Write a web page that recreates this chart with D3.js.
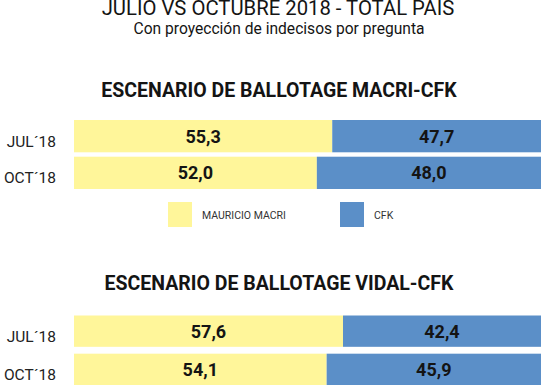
<!DOCTYPE html>
<html><head><meta charset="utf-8">
<script src="https://cdn.jsdelivr.net/npm/d3@7/dist/d3.min.js"></script>
<style>
html,body{margin:0;padding:0;background:#fff;}
svg{display:block;font-family:Roboto,"Noto Sans",sans-serif;}
</style></head>
<body><svg id="c" width="560" height="390"></svg>
<script>
const categories = ["JUL\u00B418", "OCT\u00B418"];
const macriValues = [55.3, 52.0];
const cfkVsMacriValues = [47.7, 48.0];
const vidalValues = [57.6, 54.1];
const cfkVsVidalValues = [42.4, 45.9];
const legendLabels = ["MAURICIO MACRI", "CFK"];
const titleText = "JULIO VS OCTUBRE 2018 - TOTAL PAIS";
const subtitleText = "Con proyecci\u00F3n de indecisos por pregunta";
const panelTitles = ["ESCENARIO DE BALLOTAGE MACRI-CFK", "ESCENARIO DE BALLOTAGE VIDAL-CFK"];

const YELLOW = "#fff69a", BLUE = "#5b8fc8", INK = "#141414";
const svg = d3.select("#c");
const loc = d3.formatLocale({decimal: ",", thousands: ".", grouping: [3], currency: ["", ""]});
const fmt = loc.format(".1f");

svg.append("text").attr("x", 278).attr("y", 14.5).attr("text-anchor", "middle")
  .attr("font-size", 20.3).attr("fill", INK).text(titleText);
svg.append("text").attr("x", 279).attr("y", 33.5).attr("text-anchor", "middle")
  .attr("font-size", 15.6).attr("fill", INK).text(subtitleText);

const x = d3.scaleLinear().domain([0, 100]).range([74, 541]);

function panel(title, titleY, left, right, yRange, padInner) {
  const g = svg.append("g");
  g.append("text").attr("x", 279).attr("y", titleY).attr("text-anchor", "middle")
    .attr("font-size", 19.5).attr("font-weight", "bold").attr("fill", INK).text(title);
  const y = d3.scaleBand().domain(categories).range(yRange).paddingInner(padInner);
  const rows = categories.map((c, i) => ({c, a: left[i], b: right[i]}));
  g.selectAll("rect.a").data(rows).join("rect").attr("class", "a")
    .attr("x", x(0)).attr("y", d => y(d.c)).attr("width", d => x(d.a) - x(0))
    .attr("height", y.bandwidth()).attr("fill", YELLOW);
  g.selectAll("rect.b").data(rows).join("rect").attr("class", "b")
    .attr("x", d => x(d.a)).attr("y", d => y(d.c))
    .attr("width", d => x(Math.min(100, d.a + d.b)) - x(d.a))
    .attr("height", y.bandwidth()).attr("fill", BLUE);
  g.selectAll("text.va").data(rows).join("text").attr("class", "va")
    .attr("x", d => (x(0) + x(d.a)) / 2).attr("y", d => y(d.c) + y.bandwidth() / 2)
    .attr("dy", "0.36em").attr("text-anchor", "middle").attr("font-size", 18)
    .attr("font-weight", "bold").attr("fill", INK).text(d => fmt(d.a));
  g.selectAll("text.vb").data(rows).join("text").attr("class", "vb")
    .attr("x", d => (x(d.a) + x(Math.min(100, d.a + d.b))) / 2).attr("y", d => y(d.c) + y.bandwidth() / 2)
    .attr("dy", "0.36em").attr("text-anchor", "middle").attr("font-size", 18)
    .attr("font-weight", "bold").attr("fill", INK).text(d => fmt(d.b));
  const ax = g.append("g").attr("transform", `translate(${x(0)},0)`)
    .call(d3.axisLeft(y).tickSize(0).tickPadding(18));
  ax.select(".domain").remove();
  ax.selectAll("text").attr("font-size", 15.5).attr("font-family", "Roboto,sans-serif")
    .attr("fill", "#222").attr("dy", "0.68em");
  return y;
}

panel(panelTitles[0], 96.5, macriValues, cfkVsMacriValues, [120, 189], 0.12);
panel(panelTitles[1], 290, vidalValues, cfkVsVidalValues, [315.5, 385], 0.18);

const legend = [{label: legendLabels[0], color: YELLOW, x: 168}, {label: legendLabels[1], color: BLUE, x: 340}];
const lg = svg.append("g");
lg.selectAll("rect").data(legend).join("rect")
  .attr("x", d => d.x).attr("y", 202).attr("width", 24).attr("height", 25).attr("fill", d => d.color);
lg.selectAll("text").data(legend).join("text")
  .attr("x", d => d.x + 34).attr("y", 215).attr("dy", "0.35em")
  .attr("font-size", 10.5).attr("fill", "#333").text(d => d.label);
</script></body></html>
